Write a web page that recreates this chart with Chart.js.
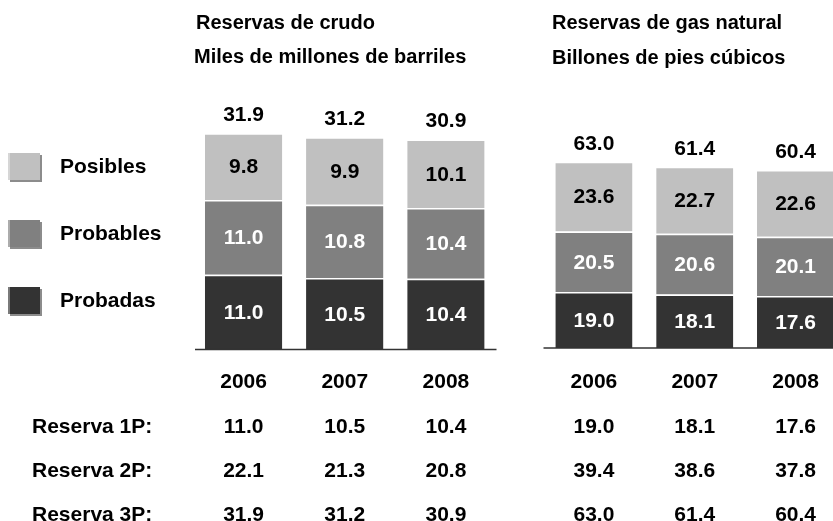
<!DOCTYPE html>
<html>
<head>
<meta charset="utf-8">
<script src="https://cdn.jsdelivr.net/npm/chart.js@4.4.1/dist/chart.umd.min.js"></script>
<style>
    html, body { margin: 0; padding: 0; background: #fff; overflow: hidden; }
    body {
        width: 833px; height: 521px; position: relative;
        font-family: "Liberation Sans", Arial, sans-serif; font-weight: bold; color: #000;
    }
    canvas { position: absolute; left: 0; top: 0; }
    .txt { position: absolute; white-space: nowrap; font-size: 21px; line-height: 24px; }
    .mid { transform: translate(-50%, -50%); }
    .left { transform: translate(0, -50%); }
    .title { font-size: 20px; }
    .box {
        position: absolute; left: 8px; width: 32px; height: 27px;
        box-shadow: 2px 2px 0 rgba(0, 0, 0, 0.45);
        border-left: 2px solid rgba(255, 255, 255, 0.35);
        box-sizing: border-box;
    }
</style>
</head>
<body>
<canvas id="crudoChart" width="833" height="521"></canvas>
<canvas id="gasChart" width="860" height="521"></canvas>
<script>
// Datos
const years = ['2006', '2007', '2008'];
const seriesNames = ['Probadas', 'Probables', 'Posibles'];

const crudoProbadas = [11.0, 10.5, 10.4];
const crudoProbables = [11.0, 10.8, 10.4];
const crudoPosibles = [9.8, 9.9, 10.1];
const crudoTotal = [31.9, 31.2, 30.9];   // = Reserva 3P
const crudo1P = [11.0, 10.5, 10.4];
const crudo2P = [22.1, 21.3, 20.8];

const gasProbadas = [19.0, 18.1, 17.6];
const gasProbables = [20.5, 20.6, 20.1];
const gasPosibles = [23.6, 22.7, 22.6];
const gasTotal = [63.0, 61.4, 60.4];     // = Reserva 3P
const gas1P = [19.0, 18.1, 17.6];
const gas2P = [39.4, 38.6, 37.8];

const rowLabels = ['Reserva 1P:', 'Reserva 2P:', 'Reserva 3P:'];

const colors = ['#333333', '#808080', '#c0c0c0'];
const labelColors = ['#ffffff', '#ffffff', '#000000'];
const FONT = '"Liberation Sans", Arial, sans-serif';

// Etiquetas dentro de las barras, totales arriba y línea base
const barLabels = {
    id: 'barLabels',
    afterDatasetsDraw(chart, args, opts) {
        const ctx = chart.ctx;
        ctx.save();
        ctx.font = 'bold 21px ' + FONT;
        ctx.textAlign = 'center';
        ctx.textBaseline = 'middle';
        chart.data.datasets.forEach((ds, i) => {
            chart.getDatasetMeta(i).data.forEach((bar, j) => {
                ctx.fillStyle = labelColors[i];
                ctx.fillText(ds.data[j].toFixed(1), bar.x, (bar.y + bar.base) / 2 + 1);
            });
        });
        const topBars = chart.getDatasetMeta(chart.data.datasets.length - 1).data;
        ctx.fillStyle = '#000';
        opts.totals.forEach((t, j) => {
            ctx.fillText(t.toFixed(1), topBars[j].x, topBars[j].y - 18);
        });
        const y0 = chart.scales.y.getPixelForValue(0);
        ctx.strokeStyle = '#333';
        ctx.lineWidth = 1.5;
        ctx.beginPath();
        ctx.moveTo(chart.chartArea.left + opts.lineInset, y0);
        ctx.lineTo(chart.chartArea.right, y0);
        ctx.stroke();
        ctx.restore();
    }
};

function makeChart(id, stacks, totals, yMax, padding, lineInset) {
    return new Chart(document.getElementById(id), {
        type: 'bar',
        data: {
            labels: years,
            datasets: stacks.map((values, i) => ({
                label: seriesNames[i],
                data: values,
                backgroundColor: colors[i],
                borderColor: '#ffffff',
                borderWidth: { top: 1.5, right: 0, bottom: 0, left: 0 },
                borderSkipped: false,
                barPercentage: 0.765,
                categoryPercentage: 1
            }))
        },
        options: {
            responsive: false,
            animation: false,
            layout: { padding: padding },
            scales: {
                x: { display: false, stacked: true },
                y: { display: false, stacked: true, min: 0, max: yMax }
            },
            plugins: {
                legend: { display: false },
                tooltip: { enabled: false },
                barLabels: { totals: totals, lineInset: lineInset }
            }
        },
        plugins: [barLabels]
    });
}

const crudoChart = makeChart('crudoChart',
    [crudoProbadas, crudoProbables, crudoPosibles], crudoTotal, 40,
    { left: 193, right: 336.5, top: 77.5, bottom: 171.5 }, 2);

const gasChart = makeChart('gasChart',
    [gasProbadas, gasProbables, gasPosibles], gasTotal, 80,
    { left: 543.5, right: 14, top: 112, bottom: 173 }, 0);

// Textos HTML
function addText(text, x, y, cls) {
    const el = document.createElement('div');
    el.className = 'txt ' + cls;
    el.textContent = text;
    el.style.left = x + 'px';
    el.style.top = y + 'px';
    document.body.appendChild(el);
}

addText('Reservas de crudo', 196, 22, 'left title');
addText('Miles de millones de barriles', 194, 56, 'left title');
addText('Reservas de gas natural', 552, 22, 'left title');
addText('Billones de pies cúbicos', 552, 57, 'left title');

// Leyenda
const legendY = [300, 233, 166];
seriesNames.forEach((name, i) => {
    const box = document.createElement('div');
    box.className = 'box';
    box.style.top = (legendY[i] - 13) + 'px';
    box.style.background = colors[i];
    document.body.appendChild(box);
    addText(name, 60, legendY[i], 'left');
});

// Tabla
const rowY = [426, 470, 514];
rowLabels.forEach((label, r) => addText(label, 32, rowY[r], 'left'));

[[crudoChart, [crudo1P, crudo2P, crudoTotal]], [gasChart, [gas1P, gas2P, gasTotal]]].forEach(([chart, rows]) => {
    years.forEach((year, j) => {
        const x = chart.scales.x.getPixelForValue(j);
        addText(year, x, 381, 'mid');
        rows.forEach((row, r) => addText(row[j].toFixed(1), x, rowY[r], 'mid'));
    });
});
</script>
</body>
</html>
